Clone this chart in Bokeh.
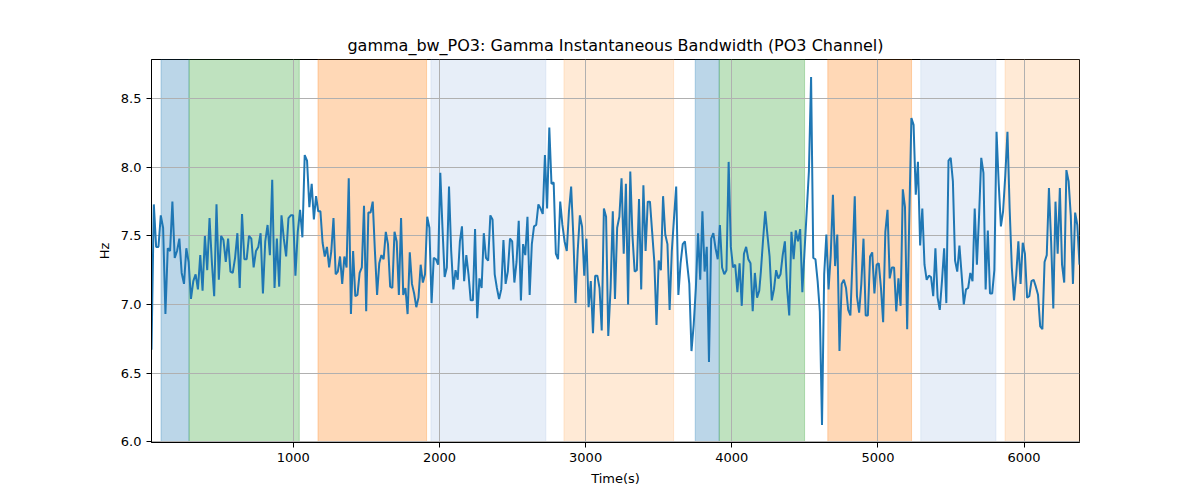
import numpy as np
from bokeh.plotting import figure
from bokeh.models import FixedTicker, PrintfTickFormatter, Range1d
from bokeh.embed import file_html
from bokeh.resources import INLINE

title_text = "gamma_bw_PO3: Gamma Instantaneous Bandwidth (PO3 Channel)"

# time span (s) of each traced segment of the series
seg_ranges = [(30, 1110), (1126, 2140), (2154, 3155), (3171, 4188), (4199, 5200), (5214, 6379)]

seg1 = [6.67, 7.73, 7.42, 7.42, 7.65, 7.56, 6.93, 7.41, 7.39, 7.75, 7.34, 7.39, 7.48, 7.23, 7.15,
        7.41, 7.31, 7.04, 7.17, 7.22, 7.11, 7.36, 7.10, 7.50, 7.25, 7.63, 7.31, 7.06, 7.73, 7.18,
        7.50, 7.47, 7.31, 7.48, 7.24, 7.23, 7.34, 7.52, 7.12, 7.66, 7.33, 7.33, 7.50, 7.48, 7.27,
        7.39, 7.42, 7.52, 7.08, 7.46, 7.58, 7.36, 7.91, 7.12, 7.48, 7.13, 7.65, 7.48, 7.35, 7.63,
        7.65, 7.65, 7.21, 7.53, 7.69, 7.49, 8.09, 8.05, 7.71]
seg2 = [7.88, 7.62, 7.79, 7.68, 7.68, 7.45, 7.35, 7.42, 7.27, 7.39, 7.63, 7.22, 7.24, 7.35, 7.15,
        7.35, 7.27, 7.92, 6.93, 7.39, 7.06, 7.07, 7.23, 7.27, 7.72, 6.95, 7.67, 7.67, 7.75, 7.39,
        7.07, 7.30, 7.36, 7.33, 7.53, 7.44, 7.13, 7.12, 7.53, 7.46, 7.07, 7.63, 7.07, 7.12, 6.93,
        7.38, 7.15, 7.08, 6.98, 7.05, 7.29, 7.16, 7.22, 7.64, 7.56, 7.01, 7.34, 7.33, 7.29, 7.96,
        7.56, 7.20, 7.27, 7.86, 7.39, 7.11, 7.25, 7.18, 7.46]
seg3 = [7.57, 7.17, 7.36, 7.22, 7.03, 7.03, 7.55, 6.90, 7.19, 7.12, 7.52, 7.34, 7.32, 7.65, 7.62,
        7.22, 7.12, 7.04, 7.11, 7.47, 7.15, 7.24, 7.48, 7.46, 7.16, 7.31, 7.61, 7.03, 7.44, 7.36,
        7.64, 7.07, 7.44, 7.57, 7.58, 7.73, 7.70, 7.66, 8.09, 7.70, 8.29, 7.88, 7.89, 7.37, 7.33,
        7.75, 7.58, 7.46, 7.39, 7.68, 7.86, 7.50, 7.01, 7.39, 7.65, 7.57, 7.21, 7.48, 6.98, 7.17,
        6.79, 7.21, 7.21, 7.12, 6.81, 7.70, 7.64, 6.77]
seg4 = [7.12, 7.68, 7.04, 7.56, 7.64, 7.92, 7.37, 7.88, 7.00, 7.97, 7.50, 7.24, 7.25, 7.77, 7.11,
        7.87, 7.39, 7.75, 7.75, 7.53, 7.31, 6.85, 7.32, 7.25, 7.79, 7.51, 7.44, 6.96, 7.39, 7.63,
        7.86, 7.07, 7.30, 7.44, 7.46, 7.30, 7.15, 6.66, 6.85, 7.12, 7.52, 7.18, 7.68, 7.24, 7.42,
        6.58, 7.48, 7.52, 7.41, 7.33, 7.58, 7.27, 7.22, 7.25, 8.04, 7.42, 7.27, 7.29, 7.09, 7.30,
        6.99, 7.37, 7.42, 7.33, 7.30, 6.95, 7.23, 7.05, 7.10]
seg5 = [7.24, 7.47, 7.68, 7.51, 7.35, 7.03, 7.11, 7.25, 7.19, 7.22, 7.36, 7.46, 7.12, 6.92, 7.53,
        7.33, 7.54, 7.46, 7.55, 7.09, 7.39, 7.68, 7.97, 8.66, 7.34, 7.33, 7.17, 6.95, 6.12, 7.22,
        7.51, 7.11, 7.36, 7.80, 7.28, 7.51, 6.66, 7.15, 7.18, 7.12, 6.96, 6.92, 7.34, 7.79, 7.06,
        6.94, 7.15, 7.48, 6.92, 6.92, 7.35, 7.38, 7.08, 7.29, 7.30, 7.12, 6.87, 7.53, 7.69, 7.19,
        7.27, 7.27, 6.95, 7.19, 6.99, 7.84, 7.71, 6.82]
seg6 = [7.61, 8.36, 8.31, 7.80, 8.04, 7.43, 7.70, 7.29, 7.18, 7.21, 7.20, 7.06, 7.41, 7.05, 6.96,
        7.17, 7.41, 7.01, 8.05, 8.07, 7.90, 7.32, 7.24, 7.43, 7.22, 7.00, 7.11, 7.12, 7.23, 7.17,
        7.70, 7.29, 7.65, 8.07, 7.96, 7.11, 7.54, 7.08, 7.08, 7.25, 8.26, 7.88, 7.57, 7.68, 7.94,
        8.26, 7.70, 7.27, 7.03, 7.21, 7.46, 7.15, 7.45, 7.37, 7.05, 7.06, 7.17, 7.18, 7.13, 7.07,
        6.84, 6.82, 7.31, 7.36, 7.85, 7.46, 6.97, 7.75, 7.37, 7.85, 7.29, 7.16, 7.98, 7.90, 7.65,
        7.15, 7.67, 7.58, 7.29]

segs = [seg1, seg2, seg3, seg4, seg5, seg6]

band_start = [95, 287, 1169, 1942, 2852, 3750, 3914, 4657, 5293, 5870]
band_end = [287, 1041, 1912, 2728, 3602, 3914, 4498, 5230, 5807, 6420]
band_color = ["#1f77b4", "#2ca02c", "#ff7f0e", "#aec7e8", "#ffbb78",
              "#1f77b4", "#2ca02c", "#ff7f0e", "#aec7e8", "#ffbb78"]

x_ticks = [1000, 2000, 3000, 4000, 5000, 6000]
y_ticks = [6.0, 6.5, 7.0, 7.5, 8.0, 8.5]

t = np.concatenate([np.linspace(a, b, len(v)) for (a, b), v in zip(seg_ranges, segs)])
yv = np.concatenate([np.array(v, dtype=float) for v in segs])
ymin, ymax = yv.min(), yv.max()
pad = 0.05 * (ymax - ymin)

FONT = "DejaVu Sans"

p = figure(frame_width=928, frame_height=383,
           min_border_left=151, min_border_right=112,
           min_border_top=59, min_border_bottom=49,
           output_backend="svg", toolbar_location=None,
           x_range=Range1d(t[0], t[-1]), y_range=Range1d(ymin - pad, ymax + pad),
           title=title_text)

p.title.align = "center"
p.title.text_font = FONT
p.title.text_font_size = "16px"
p.title.text_font_style = "normal"
p.title.text_color = "black"

p.quad(left=band_start, right=band_end, bottom=-100, top=100,
       fill_color=band_color, fill_alpha=0.3,
       line_color=band_color, line_alpha=0.3, line_width=1, level="image")

p.line(t, yv, line_color="#1f77b4", line_width=2)

p.xaxis.ticker = FixedTicker(ticks=x_ticks)
p.yaxis.ticker = FixedTicker(ticks=y_ticks)
p.yaxis.formatter = PrintfTickFormatter(format="%.1f")
p.xaxis.axis_label = "Time(s)"
p.yaxis.axis_label = "Hz"

for ax in (p.xaxis, p.yaxis):
    ax.axis_label_text_font = FONT
    ax.axis_label_text_font_size = "13px"
    ax.axis_label_text_font_style = "normal"
    ax.axis_label_text_color = "black"
    ax.major_label_text_font = FONT
    ax.major_label_text_font_size = "13px"
    ax.major_label_text_color = "black"
    ax.major_tick_in = 0
    ax.major_tick_out = 5
    ax.minor_tick_line_color = None
    ax.axis_line_color = "black"
    ax.major_tick_line_color = "black"
    ax.axis_label_standoff = 6

p.grid.grid_line_color = "#b0b0b0"
p.grid.grid_line_width = 1
p.outline_line_color = "black"
p.outline_line_alpha = 1
p.outline_line_width = 1
p.background_fill_color = "white"
p.border_fill_color = "white"

open("out.html", "w").write(file_html(p, INLINE))
